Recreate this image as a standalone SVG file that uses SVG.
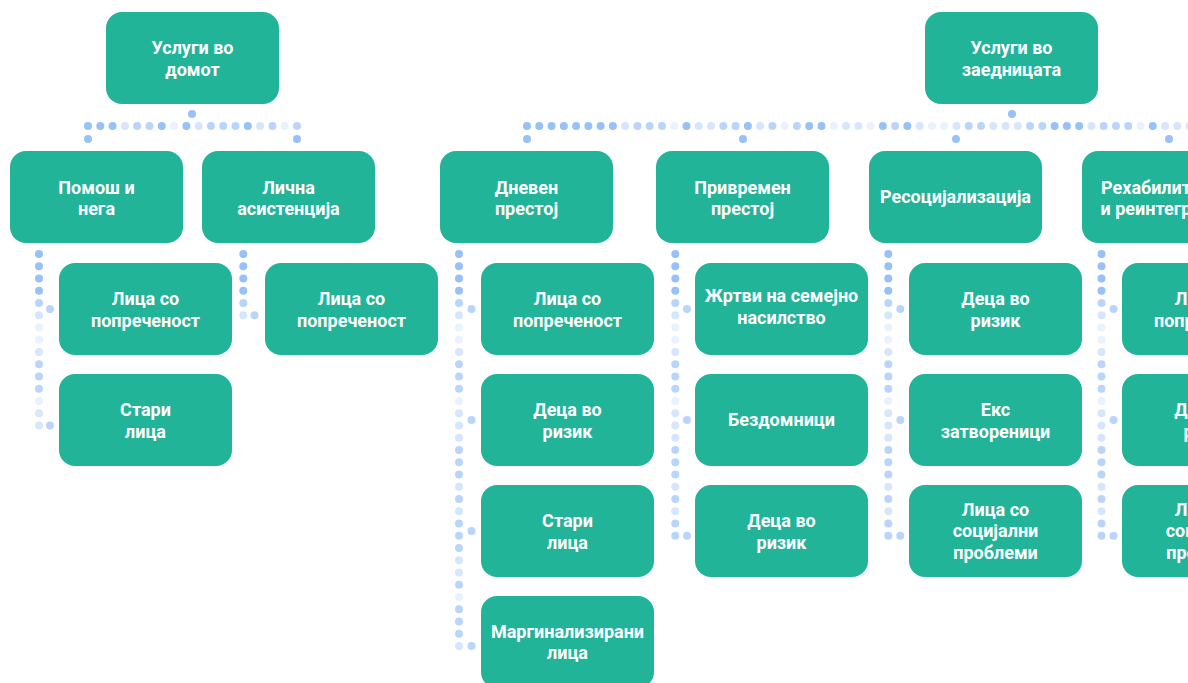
<svg xmlns="http://www.w3.org/2000/svg" xmlns:xlink="http://www.w3.org/1999/xlink" width="1188" height="683" viewBox="0 0 1188 683">
<style>
.box{fill:#22B498}
.t{font-family:Roboto,'Liberation Sans',sans-serif;font-weight:700;font-size:18px;fill:#ffffff;text-anchor:middle}
.D{fill:#98C1FA}.M{fill:#BAD5FC}.L{fill:#D6E6FD}.E{fill:#EAF2FE}
</style>
<defs>
<g id="s1"><circle class="D" cx="0" cy="254" r="4"/><circle class="D" cx="0" cy="266.25" r="4"/><circle class="D" cx="0" cy="278.5" r="4"/><circle class="D" cx="0" cy="290.75" r="4"/><circle class="M" cx="0" cy="303" r="4"/><circle class="L" cx="0" cy="315.25" r="4"/></g>
<g id="s2"><circle class="E" cx="0" cy="327.5" r="4"/><circle class="E" cx="0" cy="339.75" r="4"/><circle class="L" cx="0" cy="352" r="4"/><circle class="M" cx="0" cy="364.25" r="4"/><circle class="M" cx="0" cy="376.5" r="4"/><circle class="M" cx="0" cy="388.75" r="4"/><circle class="E" cx="0" cy="401" r="4"/><circle class="L" cx="0" cy="413.25" r="4"/><circle class="L" cx="0" cy="425.5" r="4"/></g>
<g id="s3"><circle class="L" cx="0" cy="437.75" r="4"/><circle class="M" cx="0" cy="450" r="4"/><circle class="M" cx="0" cy="462.25" r="4"/><circle class="M" cx="0" cy="474.5" r="4"/><circle class="L" cx="0" cy="486.75" r="4"/><circle class="M" cx="0" cy="499" r="4"/><circle class="L" cx="0" cy="511.25" r="4"/><circle class="M" cx="0" cy="523.5" r="4"/><circle class="M" cx="0" cy="535.75" r="4"/></g>
<g id="s4"><circle class="M" cx="0" cy="548" r="4"/><circle class="L" cx="0" cy="560.25" r="4"/><circle class="L" cx="0" cy="572.5" r="4"/><circle class="M" cx="0" cy="584.75" r="4"/><circle class="E" cx="0" cy="597" r="4"/><circle class="M" cx="0" cy="609.25" r="4"/><circle class="M" cx="0" cy="621.5" r="4"/><circle class="M" cx="0" cy="633.75" r="4"/><circle class="L" cx="0" cy="646" r="4"/></g>
</defs>

<g id="connectors">
<circle class="D" cx="192" cy="114" r="4"/>
<circle class="D" cx="88" cy="139" r="4"/><circle class="D" cx="297" cy="139" r="4"/>
<circle class="D" cx="88" cy="126" r="4"/><circle class="D" cx="100.29" cy="126" r="4"/><circle class="D" cx="112.59" cy="126" r="4"/><circle class="L" cx="124.88" cy="126" r="4"/><circle class="M" cx="137.18" cy="126" r="4"/><circle class="M" cx="149.47" cy="126" r="4"/><circle class="D" cx="161.76" cy="126" r="4"/><circle class="E" cx="174.06" cy="126" r="4"/><circle class="D" cx="186.35" cy="126" r="4"/><circle class="L" cx="198.65" cy="126" r="4"/><circle class="M" cx="210.94" cy="126" r="4"/><circle class="M" cx="223.24" cy="126" r="4"/><circle class="M" cx="235.53" cy="126" r="4"/><circle class="D" cx="247.82" cy="126" r="4"/><circle class="L" cx="260.12" cy="126" r="4"/><circle class="M" cx="272.41" cy="126" r="4"/><circle class="E" cx="284.71" cy="126" r="4"/><circle class="M" cx="297" cy="126" r="4"/>
<circle class="D" cx="1012" cy="114" r="4"/>
<circle class="D" cx="527" cy="139" r="4"/><circle class="D" cx="743" cy="139" r="4"/><circle class="D" cx="956" cy="139" r="4"/><circle class="D" cx="1169" cy="139" r="4"/>
<circle class="D" cx="527" cy="126" r="4"/><circle class="D" cx="539.27" cy="126" r="4"/><circle class="D" cx="551.54" cy="126" r="4"/><circle class="D" cx="563.81" cy="126" r="4"/><circle class="D" cx="576.08" cy="126" r="4"/><circle class="D" cx="588.35" cy="126" r="4"/><circle class="D" cx="600.62" cy="126" r="4"/><circle class="D" cx="612.89" cy="126" r="4"/><circle class="L" cx="625.16" cy="126" r="4"/><circle class="M" cx="637.43" cy="126" r="4"/><circle class="M" cx="649.7" cy="126" r="4"/><circle class="M" cx="661.97" cy="126" r="4"/><circle class="E" cx="674.24" cy="126" r="4"/><circle class="D" cx="686.51" cy="126" r="4"/><circle class="L" cx="698.78" cy="126" r="4"/><circle class="L" cx="711.05" cy="126" r="4"/><circle class="M" cx="723.32" cy="126" r="4"/><circle class="M" cx="735.59" cy="126" r="4"/><circle class="D" cx="747.86" cy="126" r="4"/><circle class="L" cx="760.13" cy="126" r="4"/><circle class="M" cx="772.4" cy="126" r="4"/><circle class="E" cx="784.67" cy="126" r="4"/><circle class="M" cx="796.94" cy="126" r="4"/><circle class="D" cx="809.21" cy="126" r="4"/><circle class="D" cx="821.48" cy="126" r="4"/><circle class="E" cx="833.75" cy="126" r="4"/><circle class="L" cx="846.02" cy="126" r="4"/><circle class="L" cx="858.29" cy="126" r="4"/><circle class="E" cx="870.56" cy="126" r="4"/><circle class="D" cx="882.83" cy="126" r="4"/><circle class="M" cx="895.1" cy="126" r="4"/><circle class="D" cx="907.37" cy="126" r="4"/><circle class="L" cx="919.64" cy="126" r="4"/><circle class="E" cx="931.91" cy="126" r="4"/><circle class="E" cx="944.18" cy="126" r="4"/><circle class="L" cx="956.45" cy="126" r="4"/><circle class="M" cx="968.72" cy="126" r="4"/><circle class="M" cx="980.99" cy="126" r="4"/><circle class="L" cx="993.26" cy="126" r="4"/><circle class="L" cx="1005.53" cy="126" r="4"/><circle class="L" cx="1017.8" cy="126" r="4"/><circle class="M" cx="1030.07" cy="126" r="4"/><circle class="M" cx="1042.34" cy="126" r="4"/><circle class="D" cx="1054.61" cy="126" r="4"/><circle class="D" cx="1066.88" cy="126" r="4"/><circle class="D" cx="1079.15" cy="126" r="4"/><circle class="L" cx="1091.42" cy="126" r="4"/><circle class="M" cx="1103.69" cy="126" r="4"/><circle class="M" cx="1115.96" cy="126" r="4"/><circle class="M" cx="1128.23" cy="126" r="4"/><circle class="E" cx="1140.5" cy="126" r="4"/><circle class="D" cx="1152.77" cy="126" r="4"/><circle class="L" cx="1165.04" cy="126" r="4"/><circle class="L" cx="1177.31" cy="126" r="4"/><circle class="L" cx="1189.58" cy="126" r="4"/>
<use xlink:href="#s1" x="39"/><use xlink:href="#s2" x="39"/>
<circle class="M" cx="50" cy="309" r="4"/><circle class="M" cx="50" cy="425.5" r="4"/>
<use xlink:href="#s1" x="243.3"/>
<circle class="M" cx="254.5" cy="315.25" r="4"/>
<use xlink:href="#s1" x="459"/><use xlink:href="#s2" x="459"/><use xlink:href="#s3" x="459"/><use xlink:href="#s4" x="459"/>
<circle class="M" cx="471.5" cy="309" r="4"/><circle class="M" cx="471.5" cy="420" r="4"/><circle class="M" cx="471.5" cy="531" r="4"/><circle class="M" cx="471.5" cy="646" r="4"/>
<use xlink:href="#s1" x="675.3"/><use xlink:href="#s2" x="675.3"/><use xlink:href="#s3" x="675.3"/>
<circle class="M" cx="687" cy="309" r="4"/><circle class="M" cx="687" cy="420" r="4"/><circle class="M" cx="687" cy="535.75" r="4"/>
<use xlink:href="#s1" x="888.3"/><use xlink:href="#s2" x="888.3"/><use xlink:href="#s3" x="888.3"/>
<circle class="M" cx="900.3" cy="309" r="4"/><circle class="M" cx="900.3" cy="420" r="4"/><circle class="M" cx="900.3" cy="535.75" r="4"/>
<use xlink:href="#s1" x="1101.5"/><use xlink:href="#s2" x="1101.5"/><use xlink:href="#s3" x="1101.5"/>
<circle class="M" cx="1113.5" cy="309" r="4"/><circle class="M" cx="1113.5" cy="420" r="4"/><circle class="M" cx="1113.5" cy="535.75" r="4"/>
</g>

<g id="n-home"><rect class="box" x="106" y="12" width="173" height="92" rx="16"/><text class="t"><tspan x="192.5" y="54">Услуги во</tspan><tspan x="192.5" y="76">домот</tspan></text></g>
<g id="n-community"><rect class="box" x="925" y="12" width="173" height="92" rx="16"/><text class="t"><tspan x="1011.5" y="54">Услуги во</tspan><tspan x="1011.5" y="76">заедницата</tspan></text></g>

<g id="n-pomos"><rect class="box" x="10" y="151" width="173" height="92" rx="16"/><text class="t"><tspan x="96.5" y="193.5">Помош и</tspan><tspan x="96.5" y="215">нега</tspan></text></g>
<g id="n-licna"><rect class="box" x="202" y="151" width="173" height="92" rx="16"/><text class="t"><tspan x="288.5" y="193.5">Лична</tspan><tspan x="288.5" y="215">асистенција</tspan></text></g>
<g id="n-dneven"><rect class="box" x="440" y="151" width="173" height="92" rx="16"/><text class="t"><tspan x="526.5" y="193.5">Дневен</tspan><tspan x="526.5" y="215">престој</tspan></text></g>
<g id="n-privremen"><rect class="box" x="656" y="151" width="173" height="92" rx="16"/><text class="t"><tspan x="742.5" y="193.5">Привремен</tspan><tspan x="742.5" y="215">престој</tspan></text></g>
<g id="n-resoc"><rect class="box" x="869" y="151" width="173" height="92" rx="16"/><text class="t" x="955.5" y="202.5">Ресоцијализација</text></g>
<g id="n-rehab"><rect class="box" x="1082" y="151" width="173" height="92" rx="16"/><text class="t"><tspan x="1168.5" y="193.5">Рехабилитација</tspan><tspan x="1168.5" y="215">и реинтеграција</tspan></text></g>

<g id="n-pomos-1"><rect class="box" x="59" y="263" width="173" height="92" rx="16"/><text class="t"><tspan x="145.5" y="305">Лица со</tspan><tspan x="145.5" y="326.5">попреченост</tspan></text></g>
<g id="n-pomos-2"><rect class="box" x="59" y="374" width="173" height="92" rx="16"/><text class="t"><tspan x="145.5" y="416">Стари</tspan><tspan x="145.5" y="437.5">лица</tspan></text></g>
<g id="n-licna-1"><rect class="box" x="265" y="263" width="173" height="92" rx="16"/><text class="t"><tspan x="351.5" y="305">Лица со</tspan><tspan x="351.5" y="326.5">попреченост</tspan></text></g>

<g id="n-dneven-1"><rect class="box" x="481" y="263" width="173" height="92" rx="16"/><text class="t"><tspan x="567.5" y="305">Лица со</tspan><tspan x="567.5" y="326.5">попреченост</tspan></text></g>
<g id="n-dneven-2"><rect class="box" x="481" y="374" width="173" height="92" rx="16"/><text class="t"><tspan x="567.5" y="416">Деца во</tspan><tspan x="567.5" y="437.5">ризик</tspan></text></g>
<g id="n-dneven-3"><rect class="box" x="481" y="485" width="173" height="92" rx="16"/><text class="t"><tspan x="567.5" y="527">Стари</tspan><tspan x="567.5" y="548.5">лица</tspan></text></g>
<g id="n-dneven-4"><rect class="box" x="481" y="596" width="173" height="92" rx="16"/><text class="t"><tspan x="567.5" y="637.5">Маргинализирани</tspan><tspan x="567.5" y="659">лица</tspan></text></g>

<g id="n-privremen-1"><rect class="box" x="695" y="263" width="173" height="92" rx="16"/><text class="t"><tspan x="781.5" y="302">Жртви на семејно</tspan><tspan x="781.5" y="323.5">насилство</tspan></text></g>
<g id="n-privremen-2"><rect class="box" x="695" y="374" width="173" height="92" rx="16"/><text class="t" x="781.5" y="425.5">Бездомници</text></g>
<g id="n-privremen-3"><rect class="box" x="695" y="485" width="173" height="92" rx="16"/><text class="t"><tspan x="781.5" y="527">Деца во</tspan><tspan x="781.5" y="548.5">ризик</tspan></text></g>

<g id="n-resoc-1"><rect class="box" x="909" y="263" width="173" height="92" rx="16"/><text class="t"><tspan x="995.5" y="305">Деца во</tspan><tspan x="995.5" y="326.5">ризик</tspan></text></g>
<g id="n-resoc-2"><rect class="box" x="909" y="374" width="173" height="92" rx="16"/><text class="t"><tspan x="995.5" y="416">Екс</tspan><tspan x="995.5" y="437.5">затвореници</tspan></text></g>
<g id="n-resoc-3"><rect class="box" x="909" y="485" width="173" height="92" rx="16"/><text class="t"><tspan x="995.5" y="515.5">Лица со</tspan><tspan x="995.5" y="537">социјални</tspan><tspan x="995.5" y="558.5">проблеми</tspan></text></g>

<g id="n-rehab-1"><rect class="box" x="1122" y="263" width="173" height="92" rx="16"/><text class="t"><tspan x="1208.5" y="305">Лица со</tspan><tspan x="1208.5" y="326.5">попреченост</tspan></text></g>
<g id="n-rehab-2"><rect class="box" x="1122" y="374" width="173" height="92" rx="16"/><text class="t"><tspan x="1208.5" y="416">Деца во</tspan><tspan x="1208.5" y="437.5">ризик</tspan></text></g>
<g id="n-rehab-3"><rect class="box" x="1122" y="485" width="173" height="92" rx="16"/><text class="t"><tspan x="1208.5" y="515.5">Лица со</tspan><tspan x="1208.5" y="537">социјални</tspan><tspan x="1208.5" y="558.5">проблеми</tspan></text></g>
</svg>
